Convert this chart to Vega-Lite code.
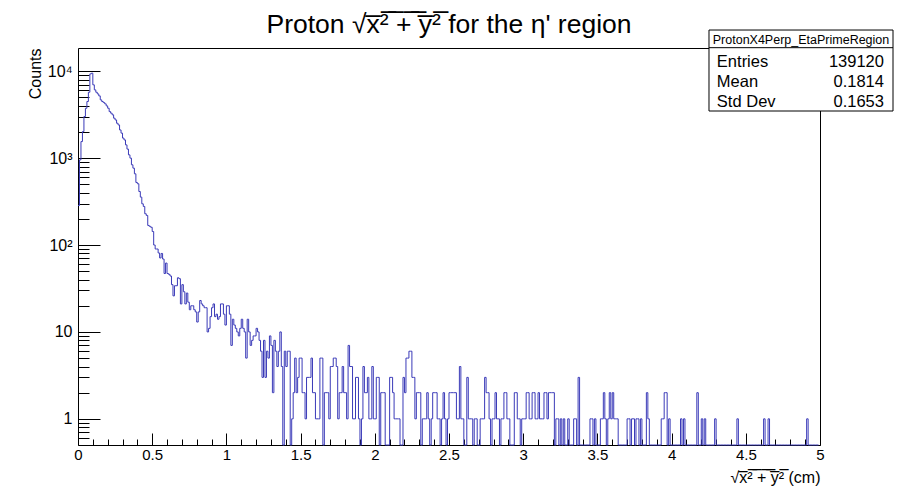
{
"$schema": "https://vega.github.io/schema/vega-lite/v6.json",
"width": 742,
"height": 397,
"autosize": "none",
"padding": {"left": 78, "top": 48, "right": 82, "bottom": 44},
"background": "white",
"config": {"font": "Liberation Sans", "view": {"stroke": "#000", "strokeWidth": 1}},
"title": {"text": "Proton \u221ax\u0305\u00b2\u0305 \u0305+\u0305 \u0305y\u0305\u00b2\u0305 for the \u03b7' region", "fontSize": 26.5, "fontWeight": "normal", "font": "Liberation Sans", "color": "#000", "frame": "group", "anchor": "middle", "baseline": "alphabetic", "offset": -29.5},
"datasets": {
"hist": [
{"x":0,"c":285},{"x":0.01,"c":955},{"x":0.02,"c":1550},{"x":0.03,"c":2020},{"x":0.04,"c":3010},{"x":0.05,"c":3750},{"x":0.06,"c":4480},{"x":0.07,"c":5730},{"x":0.08,"c":9310},{"x":0.09,"c":9490},
{"x":0.1,"c":6970},{"x":0.11,"c":6100},{"x":0.12,"c":5730},{"x":0.13,"c":5480},{"x":0.14,"c":5200},{"x":0.15,"c":4680},{"x":0.16,"c":4480},{"x":0.17,"c":4360},{"x":0.18,"c":4210},{"x":0.19,"c":3990},
{"x":0.2,"c":3750},{"x":0.21,"c":3430},{"x":0.22,"c":3290},{"x":0.23,"c":3150},{"x":0.24,"c":2880},{"x":0.25,"c":2750},{"x":0.26,"c":2520},{"x":0.27,"c":2410},{"x":0.28,"c":2110},{"x":0.29,"c":1940},
{"x":0.3,"c":1700},{"x":0.31,"c":1620},{"x":0.32,"c":1420},{"x":0.33,"c":1270},{"x":0.34,"c":1090},{"x":0.35,"c":1000},{"x":0.36,"c":838},{"x":0.37,"c":767},{"x":0.38,"c":660},{"x":0.39,"c":525},
{"x":0.4,"c":507},{"x":0.41,"c":413},{"x":0.42,"c":356},{"x":0.43,"c":298},{"x":0.44,"c":278},{"x":0.45,"c":229},{"x":0.46,"c":219},{"x":0.47,"c":168},{"x":0.48,"c":164},{"x":0.49,"c":160},
{"x":0.5,"c":143},{"x":0.51,"c":100},{"x":0.52,"c":90},{"x":0.53,"c":90},{"x":0.54,"c":81},{"x":0.55,"c":71},{"x":0.56,"c":80},{"x":0.57,"c":69},{"x":0.58,"c":47},{"x":0.59,"c":62},
{"x":0.6,"c":47},{"x":0.61,"c":46},{"x":0.62,"c":44},{"x":0.63,"c":35},{"x":0.64,"c":26},{"x":0.65,"c":34},{"x":0.66,"c":34},{"x":0.67,"c":42},{"x":0.68,"c":41},{"x":0.69,"c":21},
{"x":0.7,"c":35},{"x":0.71,"c":29},{"x":0.72,"c":21},{"x":0.73,"c":28},{"x":0.74,"c":22},{"x":0.75,"c":18},{"x":0.76,"c":20},{"x":0.77,"c":20},{"x":0.78,"c":18},{"x":0.79,"c":17},
{"x":0.8,"c":13},{"x":0.81,"c":17},{"x":0.82,"c":23},{"x":0.83,"c":21},{"x":0.84,"c":20},{"x":0.85,"c":19},{"x":0.86,"c":19},{"x":0.87,"c":10},{"x":0.88,"c":11},{"x":0.89,"c":15},
{"x":0.9,"c":19},{"x":0.91,"c":21},{"x":0.92,"c":15},{"x":0.93,"c":16},{"x":0.94,"c":14},{"x":0.95,"c":15},{"x":0.96,"c":21},{"x":0.97,"c":21},{"x":0.98,"c":16},{"x":0.99,"c":12},
{"x":1,"c":20},{"x":1.01,"c":20},{"x":1.02,"c":16},{"x":1.03,"c":7},{"x":1.04,"c":14},{"x":1.05,"c":12},{"x":1.06,"c":11},{"x":1.07,"c":10},{"x":1.08,"c":9},{"x":1.09,"c":11},
{"x":1.1,"c":14},{"x":1.11,"c":11},{"x":1.12,"c":10},{"x":1.13,"c":5},{"x":1.14,"c":14},{"x":1.15,"c":10},{"x":1.16,"c":7},{"x":1.17,"c":8},{"x":1.18,"c":9},{"x":1.19,"c":9},
{"x":1.2,"c":11},{"x":1.21,"c":10},{"x":1.22,"c":8},{"x":1.23,"c":6},{"x":1.24,"c":3},{"x":1.25,"c":8},{"x":1.26,"c":3},{"x":1.27,"c":6},{"x":1.28,"c":5},{"x":1.29,"c":9},
{"x":1.3,"c":7},{"x":1.31,"c":2},{"x":1.32,"c":8},{"x":1.33,"c":6},{"x":1.34,"c":4},{"x":1.35,"c":6},{"x":1.36,"c":10},{"x":1.37,"c":4},{"x":1.38,"c":0},{"x":1.39,"c":6},
{"x":1.4,"c":4},{"x":1.41,"c":6},{"x":1.42,"c":6},{"x":1.43,"c":0},{"x":1.44,"c":1},{"x":1.45,"c":2},{"x":1.46,"c":5},{"x":1.47,"c":2},{"x":1.48,"c":3},{"x":1.49,"c":5},
{"x":1.5,"c":5},{"x":1.51,"c":2},{"x":1.52,"c":2},{"x":1.53,"c":1},{"x":1.54,"c":3},{"x":1.55,"c":3},{"x":1.56,"c":3},{"x":1.57,"c":5},{"x":1.58,"c":2},{"x":1.59,"c":2},
{"x":1.6,"c":1},{"x":1.61,"c":1},{"x":1.62,"c":1},{"x":1.63,"c":5},{"x":1.64,"c":5},{"x":1.65,"c":0},{"x":1.66,"c":2},{"x":1.67,"c":2},{"x":1.68,"c":2},{"x":1.69,"c":1},
{"x":1.7,"c":4},{"x":1.71,"c":4},{"x":1.72,"c":5},{"x":1.73,"c":5},{"x":1.74,"c":4},{"x":1.75,"c":1},{"x":1.76,"c":2},{"x":1.77,"c":2},{"x":1.78,"c":4},{"x":1.79,"c":2},
{"x":1.8,"c":2},{"x":1.81,"c":1},{"x":1.82,"c":7},{"x":1.83,"c":4},{"x":1.84,"c":4},{"x":1.85,"c":1},{"x":1.86,"c":1},{"x":1.87,"c":3},{"x":1.88,"c":3},{"x":1.89,"c":1},
{"x":1.9,"c":0},{"x":1.91,"c":1},{"x":1.92,"c":4},{"x":1.93,"c":2},{"x":1.94,"c":2},{"x":1.95,"c":3},{"x":1.96,"c":1},{"x":1.97,"c":1},{"x":1.98,"c":4},{"x":1.99,"c":1},
{"x":2,"c":1},{"x":2.01,"c":3},{"x":2.02,"c":3},{"x":2.03,"c":0},{"x":2.04,"c":2},{"x":2.05,"c":2},{"x":2.06,"c":2},{"x":2.07,"c":0},{"x":2.08,"c":0},{"x":2.09,"c":0},
{"x":2.1,"c":3},{"x":2.11,"c":3},{"x":2.12,"c":2},{"x":2.13,"c":1},{"x":2.14,"c":1},{"x":2.15,"c":1},{"x":2.16,"c":1},{"x":2.17,"c":0},{"x":2.18,"c":0},{"x":2.19,"c":3},
{"x":2.2,"c":2},{"x":2.21,"c":5},{"x":2.22,"c":5},{"x":2.23,"c":6},{"x":2.24,"c":6},{"x":2.25,"c":3},{"x":2.26,"c":3},{"x":2.27,"c":1},{"x":2.28,"c":2},{"x":2.29,"c":2},
{"x":2.3,"c":2},{"x":2.31,"c":0},{"x":2.32,"c":1},{"x":2.33,"c":1},{"x":2.34,"c":1},{"x":2.35,"c":2},{"x":2.36,"c":1},{"x":2.37,"c":0},{"x":2.38,"c":1},{"x":2.39,"c":2},
{"x":2.4,"c":2},{"x":2.41,"c":2},{"x":2.42,"c":1},{"x":2.43,"c":1},{"x":2.44,"c":0},{"x":2.45,"c":1},{"x":2.46,"c":2},{"x":2.47,"c":1},{"x":2.48,"c":0},{"x":2.49,"c":1},
{"x":2.5,"c":2},{"x":2.51,"c":2},{"x":2.52,"c":2},{"x":2.53,"c":2},{"x":2.54,"c":2},{"x":2.55,"c":1},{"x":2.56,"c":1},{"x":2.57,"c":4},{"x":2.58,"c":1},{"x":2.59,"c":1},
{"x":2.6,"c":0},{"x":2.61,"c":0},{"x":2.62,"c":3},{"x":2.63,"c":1},{"x":2.64,"c":1},{"x":2.65,"c":1},{"x":2.66,"c":0},{"x":2.67,"c":1},{"x":2.68,"c":1},{"x":2.69,"c":0},
{"x":2.7,"c":0},{"x":2.71,"c":1},{"x":2.72,"c":1},{"x":2.73,"c":1},{"x":2.74,"c":3},{"x":2.75,"c":2},{"x":2.76,"c":2},{"x":2.77,"c":1},{"x":2.78,"c":0},{"x":2.79,"c":1},
{"x":2.8,"c":1},{"x":2.81,"c":2},{"x":2.82,"c":1},{"x":2.83,"c":1},{"x":2.84,"c":0},{"x":2.85,"c":1},{"x":2.86,"c":1},{"x":2.87,"c":2},{"x":2.88,"c":2},{"x":2.89,"c":1},
{"x":2.9,"c":1},{"x":2.91,"c":0},{"x":2.92,"c":0},{"x":2.93,"c":0},{"x":2.94,"c":2},{"x":2.95,"c":2},{"x":2.96,"c":1},{"x":2.97,"c":1},{"x":2.98,"c":0},{"x":2.99,"c":1},
{"x":3,"c":1},{"x":3.01,"c":1},{"x":3.02,"c":2},{"x":3.03,"c":2},{"x":3.04,"c":1},{"x":3.05,"c":1},{"x":3.06,"c":2},{"x":3.07,"c":2},{"x":3.08,"c":1},{"x":3.09,"c":1},
{"x":3.1,"c":2},{"x":3.11,"c":1},{"x":3.12,"c":1},{"x":3.13,"c":1},{"x":3.14,"c":2},{"x":3.15,"c":2},{"x":3.16,"c":1},{"x":3.17,"c":2},{"x":3.18,"c":2},{"x":3.19,"c":2},
{"x":3.2,"c":2},{"x":3.21,"c":0},{"x":3.22,"c":1},{"x":3.23,"c":1},{"x":3.24,"c":0},{"x":3.25,"c":1},{"x":3.26,"c":0},{"x":3.27,"c":1},{"x":3.28,"c":0},{"x":3.29,"c":0},
{"x":3.3,"c":1},{"x":3.31,"c":0},{"x":3.32,"c":0},{"x":3.33,"c":0},{"x":3.34,"c":1},{"x":3.35,"c":1},{"x":3.36,"c":0},{"x":3.37,"c":3},{"x":3.38,"c":0},{"x":3.39,"c":0},
{"x":3.4,"c":0},{"x":3.41,"c":0},{"x":3.42,"c":0},{"x":3.43,"c":0},{"x":3.44,"c":0},{"x":3.45,"c":1},{"x":3.46,"c":1},{"x":3.47,"c":0},{"x":3.48,"c":1},{"x":3.49,"c":0},
{"x":3.5,"c":0},{"x":3.51,"c":0},{"x":3.52,"c":1},{"x":3.53,"c":1},{"x":3.54,"c":2},{"x":3.55,"c":1},{"x":3.56,"c":0},{"x":3.57,"c":1},{"x":3.58,"c":2},{"x":3.59,"c":1},
{"x":3.6,"c":2},{"x":3.61,"c":1},{"x":3.62,"c":1},{"x":3.63,"c":1},{"x":3.64,"c":0},{"x":3.65,"c":0},{"x":3.66,"c":0},{"x":3.67,"c":0},{"x":3.68,"c":0},{"x":3.69,"c":0},
{"x":3.7,"c":1},{"x":3.71,"c":1},{"x":3.72,"c":0},{"x":3.73,"c":1},{"x":3.74,"c":1},{"x":3.75,"c":0},{"x":3.76,"c":1},{"x":3.77,"c":1},{"x":3.78,"c":0},{"x":3.79,"c":1},
{"x":3.8,"c":0},{"x":3.81,"c":0},{"x":3.82,"c":0},{"x":3.83,"c":2},{"x":3.84,"c":1},{"x":3.85,"c":0},{"x":3.86,"c":0},{"x":3.87,"c":0},{"x":3.88,"c":0},{"x":3.89,"c":0},
{"x":3.9,"c":0},{"x":3.91,"c":0},{"x":3.92,"c":0},{"x":3.93,"c":1},{"x":3.94,"c":1},{"x":3.95,"c":2},{"x":3.96,"c":2},{"x":3.97,"c":0},{"x":3.98,"c":1},{"x":3.99,"c":0},
{"x":4,"c":0},{"x":4.01,"c":0},{"x":4.02,"c":0},{"x":4.03,"c":0},{"x":4.04,"c":0},{"x":4.05,"c":0},{"x":4.06,"c":1},{"x":4.07,"c":0},{"x":4.08,"c":1},{"x":4.09,"c":0},
{"x":4.1,"c":0},{"x":4.11,"c":0},{"x":4.12,"c":0},{"x":4.13,"c":0},{"x":4.14,"c":0},{"x":4.15,"c":0},{"x":4.16,"c":0},{"x":4.17,"c":2},{"x":4.18,"c":0},{"x":4.19,"c":0},
{"x":4.2,"c":1},{"x":4.21,"c":0},{"x":4.22,"c":1},{"x":4.23,"c":0},{"x":4.24,"c":0},{"x":4.25,"c":0},{"x":4.26,"c":0},{"x":4.27,"c":0},{"x":4.28,"c":0},{"x":4.29,"c":1},
{"x":4.3,"c":0},{"x":4.31,"c":0},{"x":4.32,"c":0},{"x":4.33,"c":0},{"x":4.34,"c":0},{"x":4.35,"c":0},{"x":4.36,"c":0},{"x":4.37,"c":0},{"x":4.38,"c":0},{"x":4.39,"c":0},
{"x":4.4,"c":0},{"x":4.41,"c":0},{"x":4.42,"c":0},{"x":4.43,"c":0},{"x":4.44,"c":1},{"x":4.45,"c":0},{"x":4.46,"c":0},{"x":4.47,"c":0},{"x":4.48,"c":0},{"x":4.49,"c":0},
{"x":4.5,"c":0},{"x":4.51,"c":0},{"x":4.52,"c":0},{"x":4.53,"c":0},{"x":4.54,"c":0},{"x":4.55,"c":0},{"x":4.56,"c":0},{"x":4.57,"c":0},{"x":4.58,"c":0},{"x":4.59,"c":0},
{"x":4.6,"c":0},{"x":4.61,"c":0},{"x":4.62,"c":1},{"x":4.63,"c":0},{"x":4.64,"c":0},{"x":4.65,"c":1},{"x":4.66,"c":0},{"x":4.67,"c":0},{"x":4.68,"c":0},{"x":4.69,"c":0},
{"x":4.7,"c":0},{"x":4.71,"c":0},{"x":4.72,"c":0},{"x":4.73,"c":0},{"x":4.74,"c":0},{"x":4.75,"c":0},{"x":4.76,"c":0},{"x":4.77,"c":0},{"x":4.78,"c":0},{"x":4.79,"c":0},
{"x":4.8,"c":0},{"x":4.81,"c":0},{"x":4.82,"c":0},{"x":4.83,"c":0},{"x":4.84,"c":0},{"x":4.85,"c":0},{"x":4.86,"c":0},{"x":4.87,"c":0},{"x":4.88,"c":0},{"x":4.89,"c":0},
{"x":4.9,"c":0},{"x":4.91,"c":1},{"x":4.92,"c":0},{"x":4.93,"c":0},{"x":4.94,"c":0},{"x":4.95,"c":0},{"x":4.96,"c":0},{"x":4.97,"c":0},{"x":4.98,"c":0},{"x":4.99,"c":0}
],
"stats": [{"k":"Entries","v":"139120"},{"k":"Mean","v":"0.1814"},{"k":"Std Dev","v":"0.1653"}],
"head": [{"name":"ProtonX4Perp_EtaPrimeRegion"}]
},
"resolve": {"scale": {"x": "independent", "y": "independent"}, "axis": {"x": "independent", "y": "independent"}},
"layer": [
{
"data": {"name": "hist"},
"mark": {"type": "line", "interpolate": "step-after", "color": "#3a3ab8", "strokeWidth": 1, "invalid": "show"},
"encoding": {
"x": {"field": "x", "type": "quantitative", "scale": {"domain": [0, 5], "nice": false, "zero": false},
"axis": {"values": [0,0.1,0.2,0.3,0.4,0.5,0.6,0.7,0.8,0.9,1,1.1,1.2,1.3,1.4,1.5,1.6,1.7,1.8,1.9,2,2.1,2.2,2.3,2.4,2.5,2.6,2.7,2.8,2.9,3,3.1,3.2,3.3,3.4,3.5,3.6,3.7,3.8,3.9,4,4.1,4.2,4.3,4.4,4.5,4.6,4.7,4.8,4.9,5],
"format": "~g",
"labelExpr": "abs(datum.value*2-round(datum.value*2))<0.001 ? datum.label : ''",
"tickSize": {"condition": {"test": "abs(datum.value*2-round(datum.value*2))<0.001", "value": -12}, "value": -6},
"tickColor": "#000", "tickWidth": 1,
"labelPadding": 14, "labelFontSize": 15, "labelColor": "#000", "labelFont": "Liberation Sans",
"labelOverlap": false, "labelFlush": false, "labelBound": false,
"domain": false, "grid": false,
"title": "\u221ax\u0305\u00b2\u0305 \u0305+\u0305 \u0305y\u0305\u00b2\u0305 (cm)", "titleAnchor": "end", "titleFontSize": 16, "titleFontWeight": "normal", "titleColor": "#000", "titleFont": "Liberation Sans", "titlePadding": 1}},
"y": {"field": "c", "type": "quantitative", "scale": {"type": "log", "domain": [0.5, 18500], "clamp": true, "nice": false},
"axis": {"values": [0.6,0.7,0.8,0.9,1,2,3,4,5,6,7,8,9,10,20,30,40,50,60,70,80,90,100,200,300,400,500,600,700,800,900,1000,2000,3000,4000,5000,6000,7000,8000,9000,10000],
"labelExpr": "datum.value==1 ? '1' : datum.value==10 ? '10' : datum.value==100 ? '10\u00b2' : datum.value==1000 ? '10\u00b3' : datum.value==10000 ? '10\u2074' : ''",
"tickSize": {"condition": {"test": "indexof([1,10,100,1000,10000], datum.value) >= 0", "value": -22}, "value": -11},
"tickColor": "#000", "tickWidth": 1,
"labelPadding": 28, "labelFontSize": 16, "labelColor": "#000", "labelFont": "Liberation Sans",
"labelOverlap": false, "labelBound": false,
"domain": false, "grid": false,
"title": "Counts", "titleAnchor": "end", "titleFontSize": 16, "titleFontWeight": "normal", "titleColor": "#000", "titleFont": "Liberation Sans", "titlePadding": 4}}
}
},
{
"data": {"name": "head"},
"mark": {"type": "rect", "fill": "white", "stroke": "#000", "strokeWidth": 1},
"encoding": {
"x": {"datum": 4.252, "type": "quantitative", "scale": {"domain": [0, 5]}, "axis": null},
"x2": {"datum": 5.492},
"y": {"datum": 1.0453, "type": "quantitative", "scale": {"domain": [0, 1]}, "axis": null},
"y2": {"datum": 0.8413}
}
},
{
"data": {"name": "head"},
"mark": {"type": "rule", "stroke": "#000", "strokeWidth": 1},
"encoding": {
"x": {"datum": 4.252, "type": "quantitative", "scale": {"domain": [0, 5]}, "axis": null},
"x2": {"datum": 5.492},
"y": {"datum": 1.0008, "type": "quantitative", "scale": {"domain": [0, 1]}, "axis": null}
}
},
{
"data": {"name": "head"},
"mark": {"type": "text", "align": "center", "baseline": "middle", "fontSize": 12.5, "font": "Liberation Sans", "color": "#000"},
"encoding": {
"x": {"datum": 4.872, "type": "quantitative", "scale": {"domain": [0, 5]}, "axis": null},
"y": {"datum": 1.0205, "type": "quantitative", "scale": {"domain": [0, 1]}, "axis": null},
"text": {"field": "name"}
}
},
{
"data": {"name": "stats"},
"transform": [{"filter": "datum.k === 'Entries'"}],
"mark": {"type": "text", "align": "left", "baseline": "middle", "fontSize": 16.5, "font": "Liberation Sans", "color": "#000"},
"encoding": {
"x": {"datum": 4.305, "type": "quantitative", "scale": {"domain": [0, 5]}, "axis": null},
"y": {"datum": 0.964, "type": "quantitative", "scale": {"domain": [0, 1]}, "axis": null},
"text": {"field": "k"}
}
},
{
"data": {"name": "stats"},
"transform": [{"filter": "datum.k === 'Entries'"}],
"mark": {"type": "text", "align": "right", "baseline": "middle", "fontSize": 16.5, "font": "Liberation Sans", "color": "#000"},
"encoding": {
"x": {"datum": 5.431, "type": "quantitative", "scale": {"domain": [0, 5]}, "axis": null},
"y": {"datum": 0.964, "type": "quantitative", "scale": {"domain": [0, 1]}, "axis": null},
"text": {"field": "v"}
}
},
{
"data": {"name": "stats"},
"transform": [{"filter": "datum.k === 'Mean'"}],
"mark": {"type": "text", "align": "left", "baseline": "middle", "fontSize": 16.5, "font": "Liberation Sans", "color": "#000"},
"encoding": {
"x": {"datum": 4.305, "type": "quantitative", "scale": {"domain": [0, 5]}, "axis": null},
"y": {"datum": 0.9136, "type": "quantitative", "scale": {"domain": [0, 1]}, "axis": null},
"text": {"field": "k"}
}
},
{
"data": {"name": "stats"},
"transform": [{"filter": "datum.k === 'Mean'"}],
"mark": {"type": "text", "align": "right", "baseline": "middle", "fontSize": 16.5, "font": "Liberation Sans", "color": "#000"},
"encoding": {
"x": {"datum": 5.431, "type": "quantitative", "scale": {"domain": [0, 5]}, "axis": null},
"y": {"datum": 0.9136, "type": "quantitative", "scale": {"domain": [0, 1]}, "axis": null},
"text": {"field": "v"}
}
},
{
"data": {"name": "stats"},
"transform": [{"filter": "datum.k === 'Std Dev'"}],
"mark": {"type": "text", "align": "left", "baseline": "middle", "fontSize": 16.5, "font": "Liberation Sans", "color": "#000"},
"encoding": {
"x": {"datum": 4.305, "type": "quantitative", "scale": {"domain": [0, 5]}, "axis": null},
"y": {"datum": 0.8632, "type": "quantitative", "scale": {"domain": [0, 1]}, "axis": null},
"text": {"field": "k"}
}
},
{
"data": {"name": "stats"},
"transform": [{"filter": "datum.k === 'Std Dev'"}],
"mark": {"type": "text", "align": "right", "baseline": "middle", "fontSize": 16.5, "font": "Liberation Sans", "color": "#000"},
"encoding": {
"x": {"datum": 5.431, "type": "quantitative", "scale": {"domain": [0, 5]}, "axis": null},
"y": {"datum": 0.8632, "type": "quantitative", "scale": {"domain": [0, 1]}, "axis": null},
"text": {"field": "v"}
}
}
]
}
